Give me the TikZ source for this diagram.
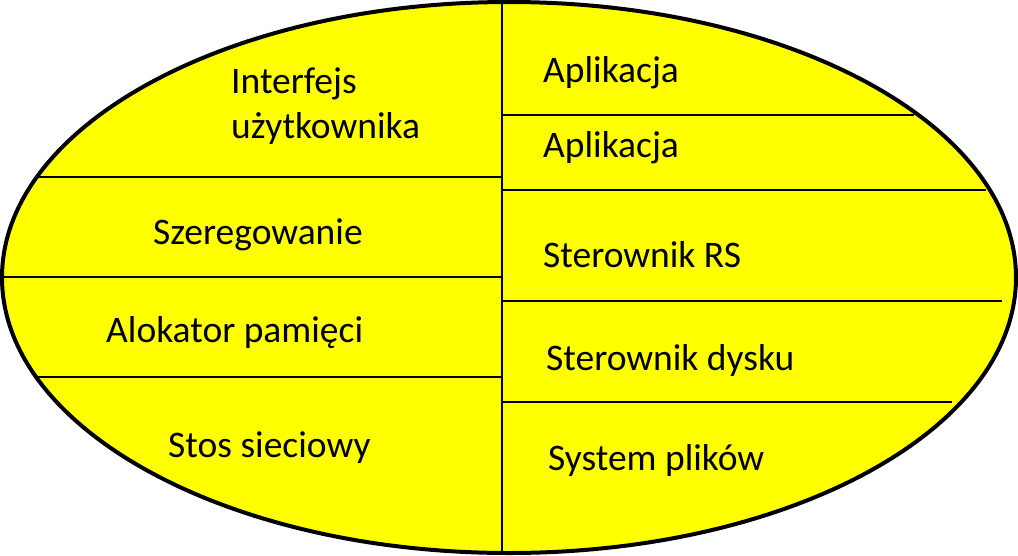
\documentclass[tikz,border=0pt]{standalone}
\usepackage{fontspec}
\setmainfont{Carlito}
\definecolor{ylw}{RGB}{255,255,0}
\begin{document}
\begin{tikzpicture}[x=1pt,y=-1pt,
  lbl/.style={anchor=base west,inner sep=0pt,font=\fontsize{37.5}{45}\selectfont},
  divider/.style={line width=2pt,draw=black}]
\useasboundingbox (0,0) rectangle (1018,555);
\draw[line width=4pt,fill=ylw] (509,277.5) ellipse [x radius=507, y radius=275.5];
% vertical divider
\draw[divider] (501.5,3) -- (501.5,553);
% left dividers
\draw[divider] (37,177) -- (501.5,177);
\draw[divider] (3,277) -- (501.5,277);
\draw[divider] (37,376.5) -- (501.5,376.5);
% right dividers
\draw[divider] (501.5,115) -- (914,115);
\draw[divider] (501.5,190) -- (986,190);
\draw[divider] (501.5,301) -- (1002,301);
\draw[divider] (501.5,401.5) -- (952,401.5);
% left labels
\node[lbl] (ui1) at (231,93) {Interfejs};
\node[lbl] (ui2) at (231,138) {użytkownika};
\node[lbl] (sz) at (153,244) {Szeregowanie};
\node[lbl] (al) at (106,342) {Alokator pamięci};
\node[lbl] (st) at (168,457) {Stos sieciowy};
% right labels
\node[lbl] (ap1) at (543,82) {Aplikacja};
\node[lbl] (ap2) at (543,157) {Aplikacja};
\node[lbl] (rs) at (543,267) {Sterownik RS};
\node[lbl] (dy) at (546,370) {Sterownik dysku};
\node[lbl] (sp) at (548,470) {System plików};
\end{tikzpicture}
\end{document}
